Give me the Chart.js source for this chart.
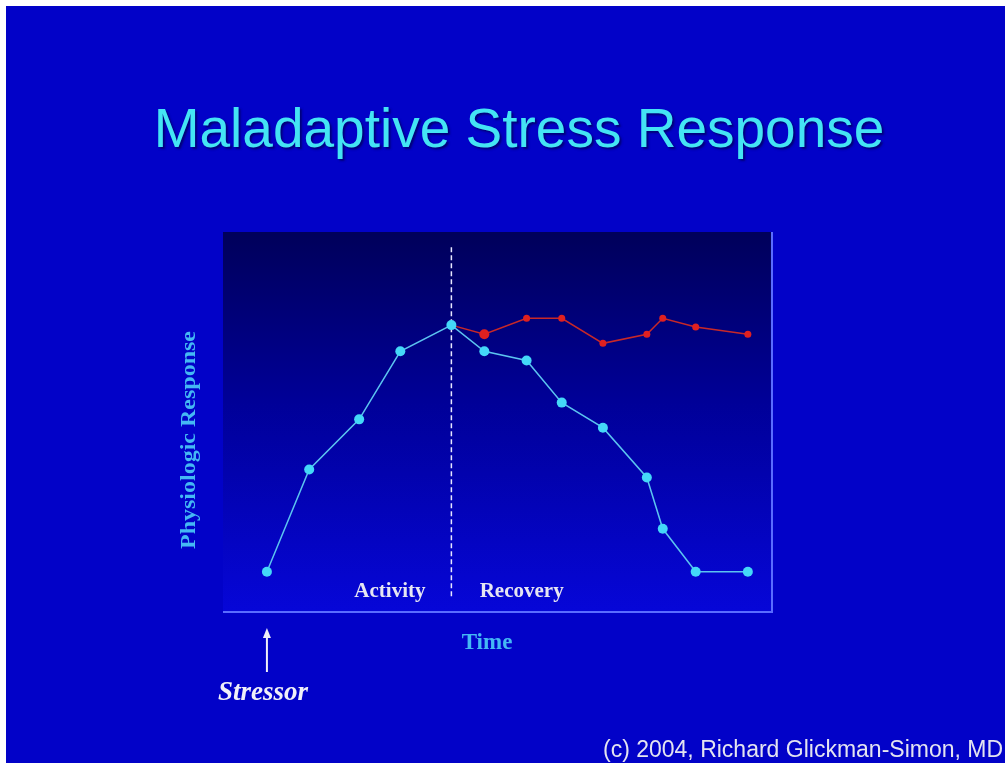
<!DOCTYPE html>
<html>
<head>
<meta charset="utf-8">
<style>
  html, body { margin: 0; padding: 0; background: #ffffff; }
  #wrap { width: 1005px; height: 763px; position: relative; }
</style>
<script src="https://cdn.jsdelivr.net/npm/chart.js@4/dist/chart.umd.min.js"></script>
</head>
<body>
<div id="wrap"><canvas id="chart" width="1005" height="763"></canvas></div>
<script>
// time positions (0-100 along the axis) and response levels (0-100)
const adaptiveTime = [8.0, 15.7, 24.8, 32.3, 41.6, 47.6, 55.3, 61.7, 69.2, 77.2, 80.1, 86.1, 95.6];
const adaptiveResponse = [10.6, 37.5, 50.7, 68.6, 75.5, 68.6, 66.2, 55.1, 48.5, 35.4, 21.9, 10.6, 10.6];

const maladaptiveTime = [41.6, 47.6, 55.3, 61.7, 69.2, 77.2, 80.1, 86.1, 95.6];
const maladaptiveResponse = [75.5, 73.1, 77.3, 77.3, 70.7, 73.1, 77.3, 75.0, 73.1];

const stressorTime = 41.6; // activity / recovery split
const phaseLabels = ["Activity", "Recovery"];

const toPoints = (xs, ys) => xs.map((x, i) => ({ x: x, y: ys[i] }));

const slidePlugin = {
  id: "slide",
  beforeDraw(chart) {
    const { ctx, chartArea: a } = chart;
    ctx.save();
    // slide background
    ctx.fillStyle = "#0202c8";
    ctx.fillRect(6, 6, chart.width - 6, chart.height - 6);
    // plot panel gradient
    const g = ctx.createLinearGradient(0, a.top, 0, a.bottom);
    g.addColorStop(0, "#00005a");
    g.addColorStop(0.45, "#000098");
    g.addColorStop(1, "#0606d8");
    ctx.fillStyle = g;
    ctx.fillRect(a.left, a.top, a.right - a.left, a.bottom - a.top);
    // light border on right and bottom
    ctx.strokeStyle = "#5a6cff";
    ctx.lineWidth = 2;
    ctx.beginPath();
    ctx.moveTo(a.left, a.bottom);
    ctx.lineTo(a.right, a.bottom);
    ctx.lineTo(a.right, a.top);
    ctx.stroke();
    ctx.restore();
  },
  afterDraw(chart) {
    const { ctx } = chart;
    const x = chart.scales.x;
    ctx.save();
    ctx.textAlign = "center";
    ctx.textBaseline = "alphabetic";

    // title
    ctx.save();
    ctx.shadowColor = "rgba(0, 0, 90, 0.7)";
    ctx.shadowOffsetX = 2;
    ctx.shadowOffsetY = 2;
    ctx.shadowBlur = 2;
    ctx.fillStyle = "#44e4f4";
    ctx.font = "55px 'Liberation Sans', Arial, sans-serif";
    ctx.fillText("Maladaptive Stress Response", 519, 147);
    ctx.restore();

    // phase labels
    ctx.fillStyle = "#e6e6f2";
    ctx.font = "bold 21px 'Liberation Serif', 'Times New Roman', serif";
    ctx.fillText(phaseLabels[0], x.getPixelForValue(30.4), 597);
    ctx.fillText(phaseLabels[1], x.getPixelForValue(54.4), 597);

    // axis titles
    ctx.fillStyle = "#44b8f4";
    ctx.font = "bold 23px 'Liberation Serif', 'Times New Roman', serif";
    ctx.fillText("Time", 487, 649);
    ctx.save();
    ctx.translate(195, 440);
    ctx.rotate(-Math.PI / 2);
    ctx.scale(1.2, 1);
    ctx.font = "bold 20px 'Liberation Serif', 'Times New Roman', serif";
    ctx.fillText("Physiologic Response", 0, 0);
    ctx.restore();

    // stressor arrow
    const sx = x.getPixelForValue(adaptiveTime[0]);
    ctx.strokeStyle = "#f0f0f8";
    ctx.fillStyle = "#f0f0f8";
    ctx.lineWidth = 2;
    ctx.beginPath();
    ctx.moveTo(sx, 672);
    ctx.lineTo(sx, 636);
    ctx.stroke();
    ctx.beginPath();
    ctx.moveTo(sx, 628);
    ctx.lineTo(sx - 4, 638);
    ctx.lineTo(sx + 4, 638);
    ctx.closePath();
    ctx.fill();
    ctx.font = "italic bold 27px 'Liberation Serif', 'Times New Roman', serif";
    ctx.fillText("Stressor", 263, 700);

    // credit line
    ctx.textAlign = "left";
    ctx.fillStyle = "#e4e4f0";
    ctx.font = "23px 'Liberation Sans', Arial, sans-serif";
    ctx.fillText("(c) 2004, Richard Glickman-Simon, MD", 603, 757);
    ctx.restore();
  }
};

new Chart(document.getElementById("chart"), {
  type: "line",
  data: {
    datasets: [
      {
        label: "divider",
        data: [{ x: stressorTime, y: 96 }, { x: stressorTime, y: 3.5 }],
        borderColor: "#e8e8ff",
        borderWidth: 1.5,
        borderDash: [5, 3],
        pointRadius: 0,
        order: 3
      },
      {
        label: "Maladaptive",
        data: toPoints(maladaptiveTime, maladaptiveResponse),
        borderColor: "#c82828",
        borderWidth: 1.5,
        backgroundColor: "#e02020",
        pointRadius: [0, 5, 3.5, 3.5, 3.5, 3.5, 3.5, 3.5, 3.5],
        pointBorderWidth: 0,
        order: 2
      },
      {
        label: "Adaptive",
        data: toPoints(adaptiveTime, adaptiveResponse),
        borderColor: "#5cc4f0",
        borderWidth: 1.5,
        backgroundColor: "#44d8f8",
        pointRadius: 5,
        pointBorderWidth: 0,
        order: 1
      }
    ]
  },
  options: {
    responsive: false,
    animation: false,
    layout: { padding: { left: 223, right: 233, top: 232, bottom: 151 } },
    scales: {
      x: { type: "linear", min: 0, max: 100, display: false },
      y: { min: 0, max: 100, display: false }
    },
    plugins: {
      legend: { display: false },
      tooltip: { enabled: false }
    }
  },
  plugins: [slidePlugin]
});
</script>
</body>
</html>
